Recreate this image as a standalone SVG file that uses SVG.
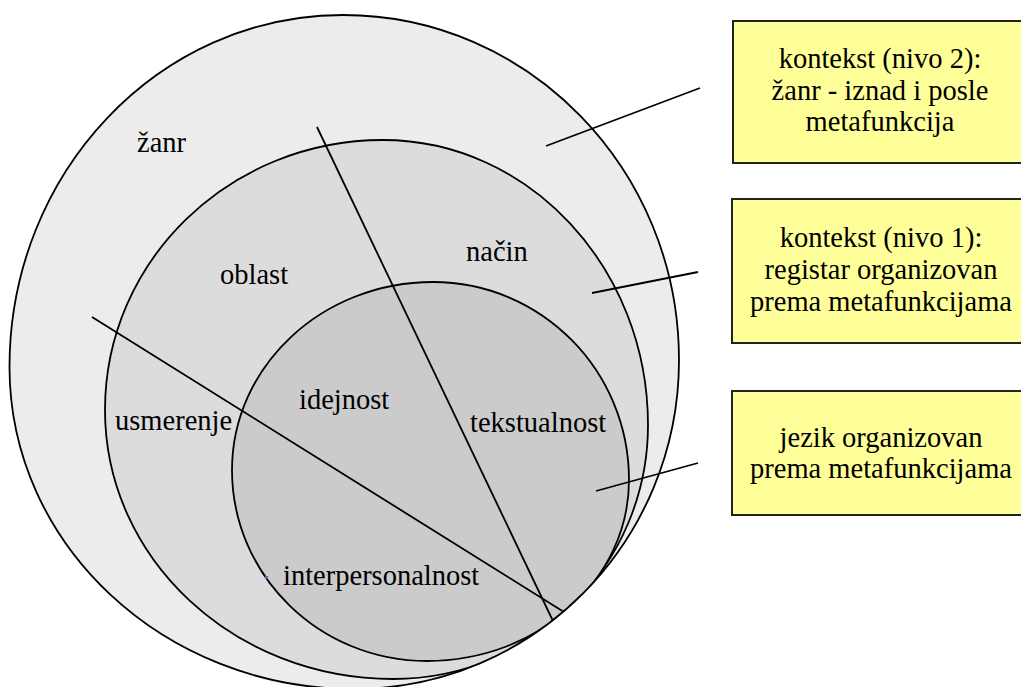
<svg xmlns="http://www.w3.org/2000/svg" width="1021" height="687" viewBox="0 0 1021 687">
<style>
.c{stroke:#000;stroke-width:1.8}
.ln{stroke:#000;stroke-width:1.8;fill:none}
.box{fill:#ffff99;stroke:#222;stroke-width:2}
.m{text-anchor:middle}
</style>
<defs>
<clipPath id="clipOuter">
<path d="M343,15 C528.6,15 679,169.5 679,360 C679,541.7 533.5,689 354,689 C163.7,689 9.5,544.8 9.5,367 C9.5,172.6 158.8,15 343,15 Z"/>
</clipPath>
</defs>
<rect width="1021" height="687" fill="#fff"/>
<g font-family="Liberation Serif, Times New Roman, DejaVu Serif, serif" font-size="28.5" fill="#000">
<g id="zanr">
<path d="M343,15 C528.6,15 679,169.5 679,360 C679,541.7 533.5,689 354,689 C163.7,689 9.5,544.8 9.5,367 C9.5,172.6 158.8,15 343,15 Z" fill="#ececec"/>
<text x="137" y="152">žanr</text>
</g>
<g id="registar">
<path clip-path="url(#clipOuter)" class="c" d="M383,140 C529,140 648,268 648,425 C648,565 534,679 393,679 C234,679 105,559 105,410 C105,261 229,140 383,140 Z" fill="#dcdcdc"/>
<text x="220" y="284">oblast</text>
<text x="466" y="261">način</text>
<text x="115" y="430">usmerenje</text>
</g>
<g id="jezik">
<path clip-path="url(#clipOuter)" class="c" d="M433,282 C541.3,282 629,370.6 629,480 C629,580 538.6,661 427,661 C319.3,661 232,575.5 232,470 C232,366.2 322,282 433,282 Z" fill="#cbcbcb"/>
<text x="299" y="409">idejnost</text>
<text x="470" y="432">tekstualnost</text>
<text x="283" y="585">interpersonalnost</text>
<rect x="265" y="576" width="3" height="3" fill="#4a6fb5"/>
</g>
<path id="zanr-border" d="M343,15 C528.6,15 679,169.5 679,360 C679,541.7 533.5,689 354,689 C163.7,689 9.5,544.8 9.5,367 C9.5,172.6 158.8,15 343,15 Z" fill="none" stroke="#000" stroke-width="1.8"/>
<g id="connectors">
<line class="ln" x1="317" y1="127" x2="553" y2="621"/>
<line class="ln" x1="92" y1="317" x2="564" y2="612"/>
<line class="ln" x1="700" y1="88" x2="546" y2="146"/>
<line class="ln" x1="698" y1="272" x2="592" y2="293"/>
<line class="ln" x1="698" y1="463" x2="596" y2="491"/>
</g>
<g id="box-kontekst2">
<rect class="box" x="733" y="21" width="300" height="142"/>
<text class="m" x="880" y="68">kontekst (nivo 2):</text>
<text class="m" x="880" y="100">žanr - iznad i posle</text>
<text class="m" x="880" y="131">metafunkcija</text>
</g>
<g id="box-kontekst1">
<rect class="box" x="732" y="199" width="300" height="144"/>
<text class="m" x="881" y="247">kontekst (nivo 1):</text>
<text class="m" x="881" y="279">registar organizovan</text>
<text class="m" x="881" y="311">prema metafunkcijama</text>
</g>
<g id="box-jezik">
<rect class="box" x="732" y="391" width="300" height="124"/>
<text class="m" x="881" y="447">jezik organizovan</text>
<text class="m" x="881" y="478">prema metafunkcijama</text>
</g>
</g>
</svg>
